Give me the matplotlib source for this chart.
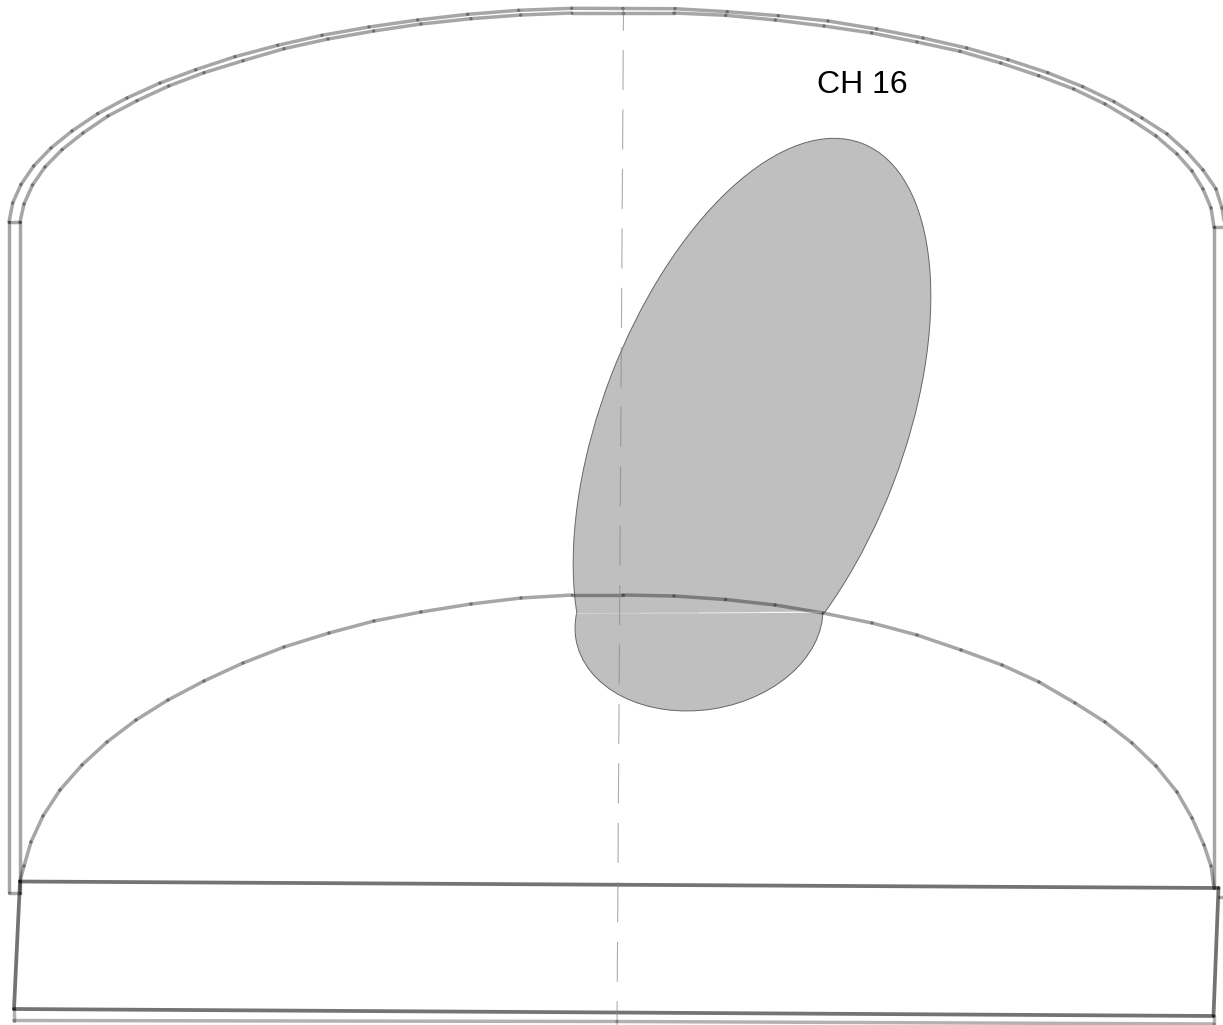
#!python

"""
Chamber outline with the CH 16 footprint
"""

import matplotlib
matplotlib.use("Agg")
import matplotlib.pyplot as plt
from matplotlib.patches import Ellipse, Polygon

plt.rcParams["lines.scale_dashes"] = False

# outlines in pixels
outer_x = [9, 9, 12.7, 21, 33.7, 51, 72, 97.7, 127, 160, 195.7, 235, 277.7, 322, 369, 417.7, 467.7, 518.7, 571.7,
           623, 675, 727.3, 778.3, 828, 876.7, 923, 966.7, 1008, 1047.7, 1082.7, 1114, 1142, 1167, 1187, 1203, 1216, 1222, 1225]
outer_y = [892, 222, 203, 184.5, 166, 148, 131, 113.7, 98, 83, 69.7, 56.7, 45.3, 35.3, 27, 20, 14.3, 10.3, 8.3,
           8.5, 8.7, 11.7, 15.7, 21, 29, 38, 48, 59.7, 72.7, 86.7, 101.7, 118, 134, 152, 170, 189, 208, 227]
inner_x = [20, 20, 24, 32.5, 45, 62, 83, 108, 137, 168.7, 204, 243, 284, 328, 373.7, 421, 471, 520.7, 571.7,
           623, 674, 725.7, 775.3, 824, 871.7, 917, 960, 1000.7, 1038.7, 1073.7, 1105, 1132, 1156, 1177, 1192, 1203, 1211, 1214, 1214]
inner_y = [893, 222, 204, 185, 167, 149.7, 133, 116, 100.7, 86, 72.7, 60.7, 48.7, 39, 31, 24, 18.7, 15, 13,
           13, 13, 15.3, 20, 26, 33, 42, 51.3, 63, 75.7, 89, 104, 120, 136, 154, 171, 189, 208, 227, 888]
floor_x = [20, 24, 31, 43, 60, 82, 107, 136, 168, 204, 243, 284, 329, 374, 421, 471, 521, 572, 623,
           674, 725.6, 775, 823, 872, 917, 961, 1002, 1039, 1075, 1105, 1132, 1156, 1177, 1192, 1204, 1211, 1214]
floor_y = [881, 866, 842, 816, 790, 765, 742, 720, 700, 681, 663, 647, 633, 621, 612, 604, 598, 595, 595,
           596, 599.5, 605, 613, 623, 635, 650, 665, 682, 703, 722, 743, 766, 792, 818, 845, 866, 888]
base_x = [20, 1218.5, 1213.5, 14, 20]
base_y = [881.5, 888, 1016, 1009, 881.5]
skirt_x = [14, 14, 617, 1214, 1214]
skirt_y = [1009, 1020.5, 1021.5, 1024, 1016]
links = [([9, 20], [222, 222]), ([9, 20], [892.5, 892.5]), ([1214, 1225], [227, 227]), ([1219, 1225], [897, 897])]

axis_x = [623.5, 617]
axis_y = [8, 1025]

upper_lobe = dict(xy=(752, 430), width=614, height=302, angle=111)
lower_lobe = dict(xy=(699, 619), width=249.4, height=182, angle=-9)
seam_x = [577, 640, 700, 760, 823]
seam_y = [613.5, 613.2, 613, 612.5, 612]
seam_alpha = [0.15, 0.35, 0.6, 0.9]

label = "CH 16"


def draw_segments(ax, xs, ys, color="black", alpha=0.35, lw=2.5, zorder=3):
    # one plot per segment, so the joints come out darker
    for i in range(len(xs) - 1):
        ax.plot(xs[i:i + 2], ys[i:i + 2], color=color, alpha=alpha, lw=lw,
                solid_capstyle="round", zorder=zorder)


fig = plt.figure(figsize=(12.23, 10.25), dpi=100)
ax = fig.add_axes([0, 0, 1, 1])
ax.set_xlim(0, 1223)
ax.set_ylim(1025, 0)
ax.axis("off")

# two lobes meeting at the seam
upper_clip = Polygon([(500, 0), (1000, 0), (1000, 612), (500, 613.5)], transform=ax.transData)
lower_clip = Polygon([(500, 613.5), (1000, 612), (1000, 800), (500, 800)], transform=ax.transData)
for lobe, clip in [(upper_lobe, upper_clip), (lower_lobe, lower_clip)]:
    patch = Ellipse(facecolor="#bfbfbf", edgecolor="#666666", lw=0.7, zorder=1, **lobe)
    ax.add_patch(patch)
    patch.set_clip_path(clip)

for i, a in enumerate(seam_alpha):
    ax.plot(seam_x[i:i + 2], seam_y[i:i + 2], color="white", lw=0.8, alpha=a, zorder=2)

draw_segments(ax, outer_x, outer_y)
draw_segments(ax, inner_x, inner_y)
draw_segments(ax, floor_x, floor_y)
draw_segments(ax, skirt_x, skirt_y, alpha=0.3)
for link_x, link_y in links:
    draw_segments(ax, link_x, link_y)
draw_segments(ax, base_x, base_y, alpha=0.55, lw=2.7)

ax.plot(axis_x, axis_y, color="#888888", lw=0.8, alpha=0.7, zorder=4,
        linestyle=(12.5, (28.8, 14.0)))

ax.text(817, 93, label, fontsize=23, family="Liberation Sans", color="black",
        ha="left", va="baseline")

fig.savefig("out.png", dpi=100)
